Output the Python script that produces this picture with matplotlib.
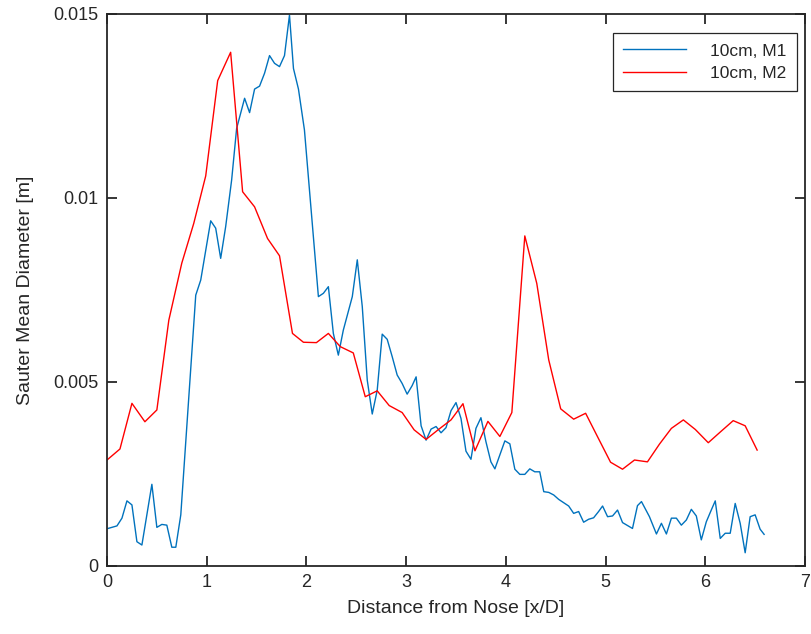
import matplotlib
matplotlib.use("Agg")
import matplotlib.pyplot as plt

# ---- data: 10cm, M1 (blue) ----
m1_x = [0.01, 0.10, 0.15, 0.20, 0.25, 0.30, 0.35, 0.45, 0.50, 0.55, 0.60, 0.65, 0.69, 0.74,
        0.89, 0.94, 1.04, 1.09, 1.14, 1.19, 1.25, 1.30, 1.34, 1.38, 1.43, 1.48, 1.53, 1.58,
        1.63, 1.68, 1.73, 1.78, 1.83, 1.87, 1.92, 1.98, 2.12, 2.17, 2.22, 2.27, 2.32, 2.37,
        2.46, 2.51, 2.56, 2.61, 2.66, 2.71, 2.76, 2.81, 2.86, 2.91, 2.96, 3.01, 3.06, 3.10,
        3.15, 3.20, 3.25, 3.30, 3.35, 3.40, 3.45, 3.50, 3.55, 3.60, 3.65, 3.70, 3.75, 3.80,
        3.85, 3.89, 3.94, 3.99, 4.04, 4.09, 4.14, 4.19, 4.24, 4.29, 4.34, 4.38, 4.43, 4.48,
        4.53, 4.58, 4.63, 4.68, 4.73, 4.78, 4.83, 4.88, 4.93, 4.97, 5.02, 5.07, 5.12, 5.17,
        5.27, 5.32, 5.36, 5.44, 5.51, 5.56, 5.61, 5.66, 5.71, 5.76, 5.81, 5.86, 5.91, 5.96,
        6.01, 6.06, 6.10, 6.15, 6.20, 6.25, 6.30, 6.35, 6.40, 6.45, 6.50, 6.55, 6.59]
m1_y = [1.02, 1.09, 1.30, 1.77, 1.66, 0.66, 0.57, 2.22, 1.05, 1.13, 1.11, 0.51, 0.51, 1.39,
        7.36, 7.77, 9.38, 9.18, 8.36, 9.22, 10.49, 11.89, 12.30, 12.71, 12.32, 12.96, 13.04, 13.39,
        13.87, 13.66, 13.57, 13.87, 14.97, 13.52, 12.96, 11.85, 7.32, 7.41, 7.59, 6.32, 5.73, 6.41,
        7.32, 8.32, 7.05, 5.05, 4.13, 4.78, 6.30, 6.16, 5.69, 5.19, 4.96, 4.67, 4.90, 5.14,
        3.81, 3.42, 3.72, 3.79, 3.62, 3.76, 4.22, 4.44, 4.01, 3.12, 2.90, 3.74, 4.03, 3.38,
        2.83, 2.64, 3.02, 3.40, 3.32, 2.63, 2.49, 2.49, 2.64, 2.56, 2.56, 2.02, 2.00, 1.93,
        1.81, 1.72, 1.63, 1.43, 1.48, 1.19, 1.27, 1.31, 1.48, 1.63, 1.34, 1.36, 1.52, 1.18,
        1.02, 1.64, 1.75, 1.34, 0.87, 1.16, 0.87, 1.30, 1.30, 1.11, 1.25, 1.54, 1.36, 0.71,
        1.20, 1.52, 1.77, 0.75, 0.89, 0.89, 1.70, 1.16, 0.36, 1.34, 1.39, 1.00, 0.86]

# ---- data: 10cm, M2 (red) ----
m2_x = [0.00, 0.13, 0.25, 0.38, 0.50, 0.62, 0.75, 0.87, 0.99, 1.11, 1.24, 1.36, 1.48, 1.61,
        1.73, 1.86, 1.97, 2.10, 2.22, 2.34, 2.47, 2.59, 2.71, 2.83, 2.96, 3.08, 3.20, 3.32,
        3.45, 3.57, 3.69, 3.82, 3.94, 4.06, 4.19, 4.31, 4.43, 4.55, 4.68, 4.80, 4.92, 5.05,
        5.17, 5.29, 5.42, 5.54, 5.66, 5.78, 5.90, 6.03, 6.15, 6.28, 6.40, 6.52]
m2_y = [2.88, 3.18, 4.42, 3.92, 4.24, 6.68, 8.23, 9.31, 10.60, 13.19, 13.96, 10.17, 9.76, 8.90,
        8.43, 6.32, 6.08, 6.07, 6.32, 5.96, 5.79, 4.60, 4.76, 4.36, 4.17, 3.70, 3.44, 3.70,
        3.97, 4.41, 3.13, 3.93, 3.52, 4.17, 8.97, 7.68, 5.60, 4.27, 3.99, 4.15, 3.51, 2.82,
        2.63, 2.88, 2.83, 3.31, 3.74, 3.97, 3.71, 3.35, 3.64, 3.95, 3.81, 3.15]

series_labels = ["10cm, M1", "10cm, M2"]
x_ticks = [0, 1, 2, 3, 4, 5, 6, 7]
y_ticks = [0, 0.005, 0.01, 0.015]
y_tick_labels = ["0", "0.005", "0.01", "0.015"]

plt.rcParams['font.family'] = ['Liberation Sans', 'DejaVu Sans']

fig = plt.figure(figsize=(8.11, 6.34), dpi=100)
ax = fig.add_axes([107 / 811, 1 - 566 / 634, (805 - 107) / 811, (566 - 14) / 634])

ax.plot(m1_x, [v / 1000 for v in m1_y], color='#0072BD', lw=1.0, label=series_labels[0])
ax.plot(m2_x, [v / 1000 for v in m2_y], color='#FF0000', lw=1.0, label=series_labels[1])

ax.set_xlim(0, 7)
ax.set_ylim(0, 0.015)
ax.set_xticks(x_ticks)
ax.set_yticks(y_ticks)
ax.set_yticklabels(y_tick_labels)

dark = '#262626'
for s in ax.spines.values():
    s.set_color(dark)
    s.set_linewidth(1.3)
ax.tick_params(direction='in', length=7, width=1.3, color=dark, labelcolor=dark,
               labelsize=13, top=True, right=True, pad=6)

ax.set_xlabel("Distance from Nose [x/D]", fontsize=14, color=dark, labelpad=6)
ax.set_ylabel("Sauter Mean Diameter [m]", fontsize=14, color=dark, labelpad=14)

leg = ax.legend(loc='upper right', bbox_to_anchor=((797 - 107) / 698, (566 - 33) / 552),
                borderaxespad=0, fontsize=12.5,
                frameon=True, fancybox=False, handlelength=3.6, handletextpad=1.4,
                borderpad=0.6, labelspacing=0.4, markerfirst=True)
leg.get_frame().set_edgecolor(dark)
leg.get_frame().set_linewidth(0.9)
leg.get_frame().set_alpha(1)
for t in leg.get_texts():
    t.set_color(dark)

fig.savefig("out.png", dpi=100)
